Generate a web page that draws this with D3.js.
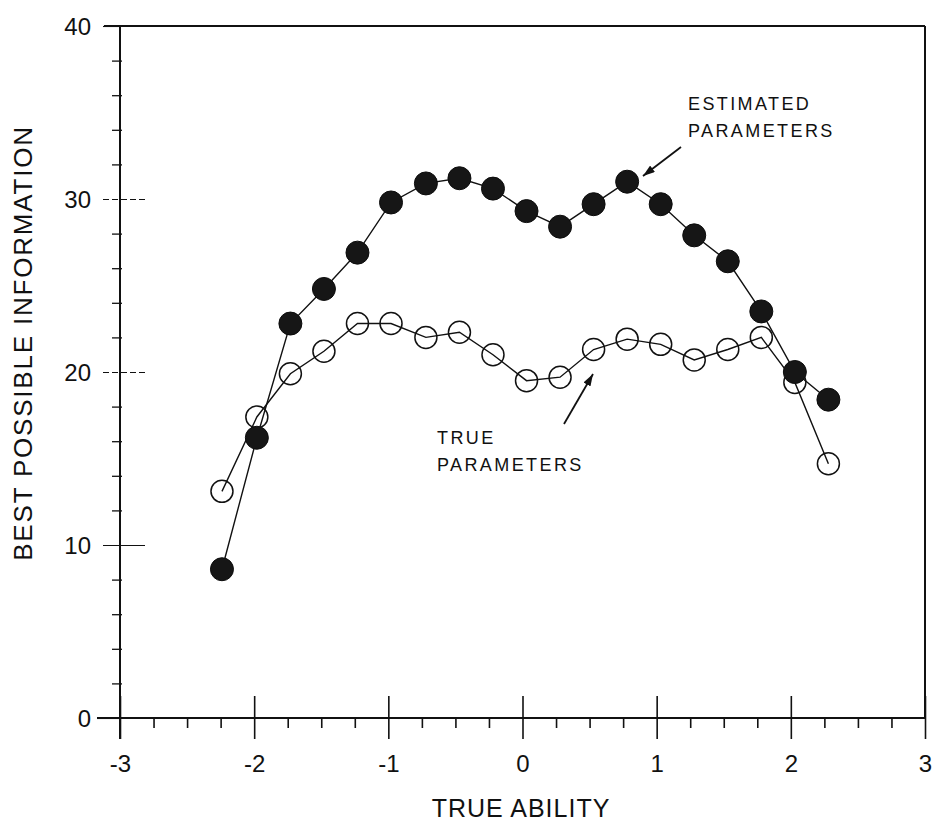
<!DOCTYPE html>
<html>
<head>
<meta charset="utf-8">
<script src="https://cdn.jsdelivr.net/npm/d3@7/dist/d3.min.js"></script>
<style>
  html, body { margin: 0; padding: 0; background: #fff; }
  svg { display: block; font-family: "Liberation Sans", Arial, Helvetica, sans-serif; }
</style>
</head>
<body>
<svg id="chart" width="935" height="825"></svg>
<script>
// ---- data ----
const abilities = [-2.24, -1.98, -1.73, -1.48, -1.23, -0.98, -0.72, -0.47, -0.22, 0.03, 0.28, 0.53, 0.78, 1.03, 1.28, 1.53, 1.78, 2.03, 2.28];
const estimatedInfo = [8.6, 16.2, 22.8, 24.8, 26.9, 29.8, 30.9, 31.2, 30.6, 29.3, 28.4, 29.7, 31.0, 29.7, 27.9, 26.4, 23.5, 20.0, 18.4];
const trueInfo = [13.1, 17.4, 19.9, 21.2, 22.8, 22.8, 22.0, 22.3, 21.0, 19.5, 19.7, 21.3, 21.9, 21.6, 20.7, 21.3, 22.0, 19.4, 14.7];
const xTicks = [-3, -2, -1, 0, 1, 2, 3];
const yTicks = [0, 10, 20, 30, 40];
const xTitle = "TRUE ABILITY";
const yTitle = "BEST POSSIBLE INFORMATION";
const estLabel = ["ESTIMATED", "PARAMETERS"];
const trueLabel = ["TRUE", "PARAMETERS"];

// ---- layout ----
const svg = d3.select("#chart");
const ink = "#111";
const x = d3.scaleLinear().domain([-3, 3]).range([120, 925]);
const y = d3.scaleLinear().domain([0, 40]).range([718, 26]);

// frame: top and right borders
svg.append("line").attr("x1", 104).attr("x2", x(3)).attr("y1", y(40)).attr("y2", y(40))
  .attr("stroke", ink).attr("stroke-width", 2);
svg.append("line").attr("x1", x(3)).attr("x2", x(3)).attr("y1", y(40)).attr("y2", y(0))
  .attr("stroke", ink).attr("stroke-width", 2);

// x axis minor ticks
const xMinor = d3.range(-3, 3.001, 0.25).filter(v => Math.abs(v - Math.round(v)) > 1e-6);
const gxMinor = svg.append("g").attr("transform", `translate(0,${y(0)})`)
  .call(d3.axisBottom(x).tickValues(xMinor).tickSize(10).tickFormat(""));
gxMinor.select(".domain").remove();
gxMinor.selectAll("line").attr("stroke", ink).attr("stroke-width", 1.6);

// x axis major
const gx = svg.append("g").attr("transform", `translate(0,${y(0)})`)
  .call(d3.axisBottom(x).tickValues(xTicks).tickSize(21).tickFormat(d => d < 0 ? "-" + Math.abs(d) : String(d)));
gx.select(".domain").attr("stroke", ink).attr("stroke-width", 2).attr("d", `M97,0H${x(3)}`);
gx.selectAll(".tick line").attr("y1", -22).attr("y2", 21).attr("stroke", ink).attr("stroke-width", 1.6);
gx.selectAll(".tick text").attr("y", 54).attr("dy", 0).attr("fill", ink)
  .style("font-size", "24px").style("font-family", "'Liberation Sans', Arial, sans-serif");

// y axis minor ticks
const yMinor = d3.range(0, 40.001, 2).filter(v => v % 10 !== 0);
const gyMinor = svg.append("g").attr("transform", `translate(${x(-3)},0)`)
  .call(d3.axisLeft(y).tickValues(yMinor).tickSize(8).tickFormat(""));
gyMinor.select(".domain").remove();
gyMinor.selectAll("line").attr("x2", -8).attr("x1", 2).attr("stroke", ink).attr("stroke-width", 1.3);

// y axis major
const gy = svg.append("g").attr("transform", `translate(${x(-3)},0)`)
  .call(d3.axisLeft(y).tickValues(yTicks).tickSize(18).tickFormat(d3.format("d")));
gy.select(".domain").attr("stroke", ink).attr("stroke-width", 2).attr("d", `M0,${y(40)}V${y(0) + 21}`);
gy.selectAll(".tick line").attr("stroke", ink).attr("stroke-width", 1.1)
  .attr("x1", d => (d === 0 || d === 40) ? 0 : 25).attr("x2", d => d === 0 ? -23 : -17)
  .attr("stroke-dasharray", d => (d === 20 || d === 30) ? "6,3" : null);
gy.selectAll(".tick text").attr("x", -29).attr("dy", "0.35em").attr("fill", ink)
  .style("font-size", "24px").style("font-family", "'Liberation Sans', Arial, sans-serif");

// titles
svg.append("text").attr("x", 521).attr("y", 817).attr("text-anchor", "middle")
  .attr("fill", ink).style("font-size", "25px").style("letter-spacing", "1px").text(xTitle);
svg.append("text").attr("transform", "translate(32,343) rotate(-90)").attr("text-anchor", "middle")
  .attr("fill", ink).style("font-size", "26px").style("letter-spacing", "1.8px").text(yTitle);

// lines
const line = d3.line().x(d => x(d[0])).y(d => y(d[1]));
const trueData = abilities.map((a, i) => [a, trueInfo[i]]);
const estData = abilities.map((a, i) => [a, estimatedInfo[i]]);

svg.append("path").datum(trueData).attr("d", line).attr("fill", "none").attr("stroke", ink).attr("stroke-width", 1.4);
svg.append("path").datum(estData).attr("d", line).attr("fill", "none").attr("stroke", ink).attr("stroke-width", 1.4);

svg.append("g").selectAll("circle").data(trueData).join("circle")
  .attr("cx", d => x(d[0])).attr("cy", d => y(d[1])).attr("r", 11)
  .attr("fill", "none").attr("stroke", ink).attr("stroke-width", 1.5);
svg.append("g").selectAll("circle").data(estData).join("circle")
  .attr("cx", d => x(d[0])).attr("cy", d => y(d[1])).attr("r", 11.5)
  .attr("fill", "#161616").attr("stroke", "#0c0c0c").attr("stroke-width", 1);

// arrows
const defs = svg.append("defs");
defs.append("marker").attr("id", "ah").attr("viewBox", "0 0 12 8").attr("refX", 12).attr("refY", 4)
  .attr("markerWidth", 12).attr("markerHeight", 8).attr("markerUnits", "userSpaceOnUse").attr("orient", "auto")
  .append("path").attr("d", "M0,0L12,4L0,8Z").attr("fill", ink);

svg.append("line").attr("x1", 681).attr("y1", 147).attr("x2", 643).attr("y2", 176)
  .attr("stroke", ink).attr("stroke-width", 1.8).attr("marker-end", "url(#ah)");
svg.append("line").attr("x1", 564).attr("y1", 424).attr("x2", 593).attr("y2", 374)
  .attr("stroke", ink).attr("stroke-width", 1.8).attr("marker-end", "url(#ah)");

// annotations
function label(lines, x0, y0) {
  const t = svg.append("text").attr("fill", ink).style("font-size", "18px").style("letter-spacing", "2.4px");
  lines.forEach((s, i) => t.append("tspan").attr("x", x0).attr("y", y0 + i * 27).text(s));
}
label(estLabel, 688, 110);
label(trueLabel, 437, 444);
</script>
</body>
</html>
